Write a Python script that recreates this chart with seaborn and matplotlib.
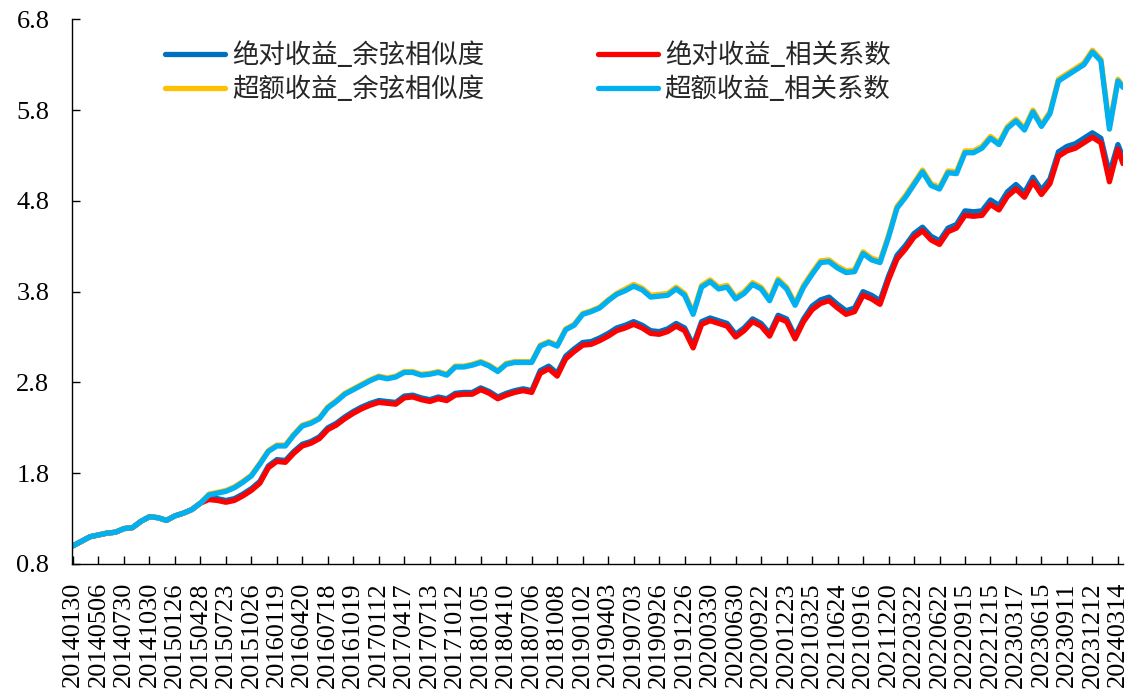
import matplotlib
matplotlib.use('Agg')
import matplotlib.pyplot as plt
import seaborn as sns
import pandas as pd
from matplotlib.font_manager import FontProperties

# trading-day offsets from 20140130, one reading every 20 days, plus the last day
days = list(range(0, 2461, 20)) + [2472]

tick_dates = [
    "20140130", "20140506", "20140730", "20141030", "20150126", "20150428",
    "20150723", "20151026", "20160119", "20160420", "20160718", "20161019",
    "20170112", "20170417", "20170713", "20171012", "20180105", "20180410",
    "20180706", "20181008", "20190102", "20190403", "20190703", "20190926",
    "20191226", "20200330", "20200630", "20200922", "20201223", "20210325",
    "20210624", "20210916", "20211220", "20220322", "20220622", "20220915",
    "20221215", "20230317", "20230615", "20230911", "20231212", "20240314",
]
tick_days = [60 * i for i in range(len(tick_dates))]

abs_cos = [
    1.00, 1.05, 1.10, 1.12, 1.14, 1.15, 1.19, 1.20, 1.27, 1.32,
    1.31, 1.28, 1.33, 1.36, 1.40, 1.47, 1.53, 1.52, 1.50, 1.52,
    1.57, 1.63, 1.71, 1.88, 1.95, 1.94, 2.04, 2.12, 2.15, 2.20,
    2.30, 2.35, 2.42, 2.48, 2.53, 2.57, 2.60, 2.59, 2.58, 2.65,
    2.66, 2.63, 2.61, 2.64, 2.62, 2.68, 2.69, 2.69, 2.74, 2.70,
    2.64, 2.68, 2.71, 2.73, 2.71, 2.93, 2.98, 2.90, 3.09, 3.17,
    3.24, 3.25, 3.29, 3.34, 3.40, 3.43, 3.47, 3.43, 3.37, 3.36,
    3.39, 3.45, 3.40, 3.21, 3.47, 3.51, 3.48, 3.45, 3.33, 3.40,
    3.50, 3.45, 3.34, 3.54, 3.50, 3.31, 3.50, 3.64, 3.71, 3.74,
    3.66, 3.59, 3.62, 3.80, 3.76, 3.70, 3.97, 4.20, 4.31, 4.44,
    4.51, 4.41, 4.36, 4.50, 4.54, 4.69, 4.68, 4.69, 4.81, 4.75,
    4.90, 4.98, 4.89, 5.06, 4.92, 5.04, 5.34, 5.40, 5.43, 5.49,
    5.55, 5.49, 5.10, 5.42, 5.28,
]
abs_corr = [
    1.00, 1.05, 1.10, 1.12, 1.14, 1.15, 1.19, 1.20, 1.27, 1.32,
    1.31, 1.28, 1.33, 1.36, 1.40, 1.47, 1.51, 1.50, 1.48, 1.50,
    1.55, 1.61, 1.69, 1.86, 1.93, 1.92, 2.02, 2.10, 2.13, 2.18,
    2.28, 2.33, 2.40, 2.46, 2.51, 2.55, 2.58, 2.57, 2.56, 2.63,
    2.64, 2.61, 2.59, 2.62, 2.60, 2.66, 2.67, 2.67, 2.72, 2.68,
    2.62, 2.66, 2.69, 2.71, 2.69, 2.90, 2.95, 2.87, 3.06, 3.14,
    3.21, 3.22, 3.26, 3.31, 3.37, 3.40, 3.44, 3.40, 3.34, 3.33,
    3.36, 3.42, 3.37, 3.18, 3.44, 3.48, 3.45, 3.42, 3.30, 3.37,
    3.47, 3.42, 3.31, 3.51, 3.47, 3.28, 3.47, 3.60, 3.67, 3.70,
    3.62, 3.55, 3.58, 3.76, 3.72, 3.66, 3.93, 4.16, 4.27, 4.40,
    4.47, 4.37, 4.32, 4.46, 4.50, 4.64, 4.63, 4.64, 4.76, 4.70,
    4.85, 4.93, 4.84, 5.01, 4.87, 4.99, 5.29, 5.35, 5.38, 5.44,
    5.50, 5.44, 5.01, 5.37, 5.21,
]
exc_cos = [
    1.00, 1.05, 1.10, 1.12, 1.14, 1.15, 1.19, 1.20, 1.27, 1.32,
    1.31, 1.28, 1.33, 1.36, 1.40, 1.47, 1.57, 1.59, 1.61, 1.65,
    1.71, 1.78, 1.91, 2.05, 2.11, 2.11, 2.23, 2.33, 2.36, 2.41,
    2.53, 2.60, 2.68, 2.73, 2.78, 2.83, 2.87, 2.85, 2.87, 2.92,
    2.92, 2.89, 2.90, 2.92, 2.89, 2.98, 2.98, 3.00, 3.03, 2.99,
    2.93, 3.01, 3.03, 3.03, 3.03, 3.21, 3.25, 3.21, 3.39, 3.44,
    3.56, 3.59, 3.63, 3.71, 3.78, 3.83, 3.88, 3.84, 3.76, 3.77,
    3.78, 3.85, 3.78, 3.57, 3.87, 3.93, 3.85, 3.87, 3.74, 3.80,
    3.90, 3.85, 3.72, 3.94, 3.85, 3.67, 3.87, 4.01, 4.14, 4.15,
    4.08, 4.03, 4.04, 4.24, 4.17, 4.14, 4.42, 4.74, 4.86, 5.00,
    5.14, 4.99, 4.95, 5.13, 5.12, 5.35, 5.35, 5.40, 5.51, 5.44,
    5.62, 5.70, 5.60, 5.80, 5.64, 5.78, 6.14, 6.20, 6.26, 6.32,
    6.46, 6.36, 5.62, 6.14, 6.07,
]
exc_corr = [
    1.00, 1.05, 1.10, 1.12, 1.14, 1.15, 1.19, 1.20, 1.27, 1.32,
    1.31, 1.28, 1.33, 1.36, 1.40, 1.47, 1.56, 1.58, 1.60, 1.64,
    1.70, 1.77, 1.90, 2.04, 2.10, 2.10, 2.22, 2.32, 2.35, 2.40,
    2.52, 2.59, 2.67, 2.72, 2.77, 2.82, 2.86, 2.84, 2.86, 2.91,
    2.91, 2.88, 2.89, 2.91, 2.88, 2.97, 2.97, 2.99, 3.02, 2.98,
    2.92, 3.00, 3.02, 3.02, 3.02, 3.20, 3.24, 3.20, 3.38, 3.43,
    3.55, 3.58, 3.62, 3.70, 3.77, 3.81, 3.86, 3.82, 3.74, 3.75,
    3.76, 3.83, 3.76, 3.55, 3.85, 3.91, 3.83, 3.85, 3.72, 3.78,
    3.88, 3.83, 3.70, 3.92, 3.83, 3.65, 3.85, 3.99, 4.12, 4.13,
    4.06, 4.01, 4.02, 4.22, 4.15, 4.12, 4.40, 4.72, 4.84, 4.98,
    5.12, 4.97, 4.93, 5.11, 5.10, 5.33, 5.33, 5.38, 5.49, 5.42,
    5.60, 5.68, 5.58, 5.78, 5.62, 5.76, 6.12, 6.18, 6.24, 6.30,
    6.44, 6.34, 5.59, 6.12, 6.05,
]

series_names = ["绝对收益_余弦相似度", "绝对收益_相关系数", "超额收益_余弦相似度", "超额收益_相关系数"]
series_values = [abs_cos, abs_corr, exc_cos, exc_corr]
colors = ["#0070C0", "#FF0000", "#FFC000", "#00B0F0"]

sns.set_style("ticks")
plt.rcParams['font.family'] = ['Liberation Serif', 'DejaVu Serif']

fig = plt.figure(figsize=(11.37, 6.96), dpi=100)
ax = fig.add_axes([71.7 / 1137, 132 / 696, 1051.3 / 1137, 544.7 / 696])

lines = {}
for name, vals, col in zip(series_names, series_values, colors):
    df = pd.DataFrame({"day": days, "value": vals})
    sns.lineplot(data=df, x="day", y="value", color=col, linewidth=3.8, ax=ax, label=name, legend=False)
    lines[name] = ax.lines[-1]

ax.set_xlim(-3, 2472)
ax.set_ylim(0.8, 6.8)
ax.set_yticks([0.8, 1.8, 2.8, 3.8, 4.8, 5.8, 6.8])
ax.set_yticklabels(["0.8", "1.8", "2.8", "3.8", "4.8", "5.8", "6.8"])
ax.set_xticks(tick_days)
ax.set_xticklabels(tick_dates, rotation=90)
ax.set_xlabel("")
ax.set_ylabel("")
ax.tick_params(axis='both', direction='in', length=6, width=1, colors='black', labelsize=19)
ax.tick_params(axis='x', pad=13)
ax.tick_params(axis='y', pad=16)
for s in ["top", "right"]:
    ax.spines[s].set_visible(False)
for s in ["left", "bottom"]:
    ax.spines[s].set_color("black")
    ax.spines[s].set_linewidth(1)

order = ["绝对收益_余弦相似度", "超额收益_余弦相似度", "绝对收益_相关系数", "超额收益_相关系数"]
ax.legend([lines[n] for n in order], order, ncol=2, frameon=False,
          loc="upper left", bbox_to_anchor=(0.0763, 0.9825), borderpad=0,
          prop=FontProperties(family=['Noto Sans CJK SC', 'DejaVu Sans'], size=19),
          handlelength=2.27, handletextpad=0.27, columnspacing=4.3, labelspacing=0.28)

fig.savefig("out.png", dpi=100)
